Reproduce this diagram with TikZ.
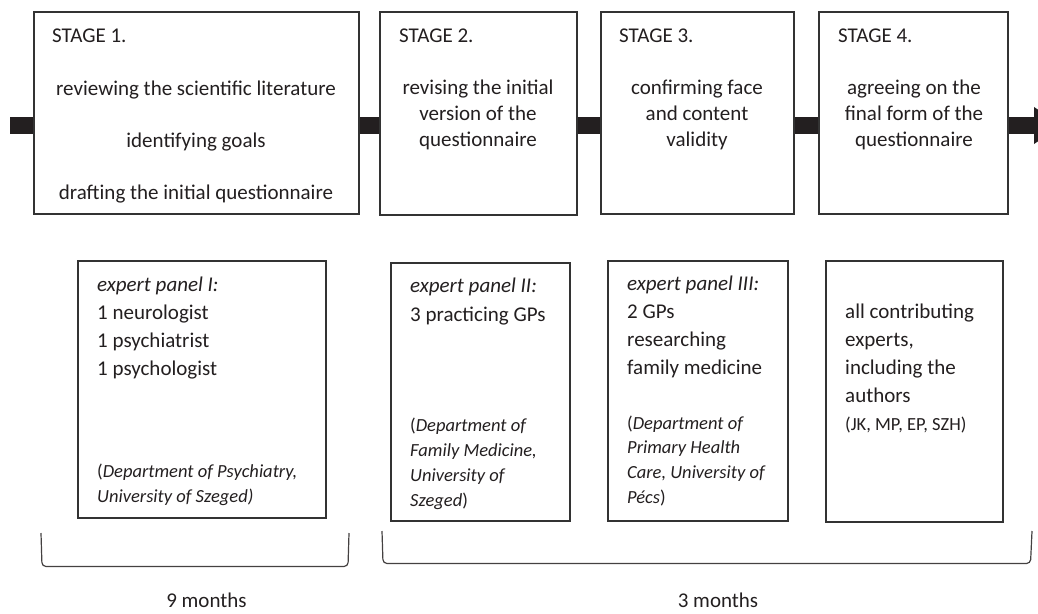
\documentclass[tikz,border=0pt]{standalone}
\usepackage{fontspec}
\setmainfont{Carlito}
\usetikzlibrary{arrows.meta}
\definecolor{ink}{HTML}{231F20}
\definecolor{framecol}{HTML}{333333}
\begin{document}
\begin{tikzpicture}[x=1pt,y=-1pt,
  box/.style={draw=framecol, line width=1.6pt, fill=white, inner sep=0pt, rectangle},
  txt/.style={inner sep=0pt, text=ink, font=\fontsize{21}{26}\selectfont},
  mainlines/.style={txt, font=\fontsize{21}{28}\selectfont},
  deptlines/.style={txt, font=\fontsize{18.5}{25}\selectfont},
  bar/.style={draw=ink, line width=17.6pt},
  brace/.style={draw=ink!85, line width=1.2pt, rounded corners=4pt}]
\useasboundingbox (0,0) rectangle (1038,613);

% connector ends
\coordinate (start) at (10,125.5);
\coordinate (end) at (1062,125.5);

% stage boxes
\node[box, minimum width=325pt, minimum height=202pt] (s1) at (196.5,113) {};
\node[box, minimum width=197pt, minimum height=203pt] (s2) at (478.5,113.5) {};
\node[box, minimum width=193pt, minimum height=202pt] (s3) at (697.5,113) {};
\node[box, minimum width=189pt, minimum height=202pt] (s4) at (913.5,113) {};

% connectors (thick bar)
\draw[bar] (start) -- (start -| s1.west);
\draw[bar] (s1.east |- start) -- (s2.west |- start);
\draw[bar] (s2.east |- start) -- (s3.west |- start);
\draw[bar] (s3.east |- start) -- (s4.west |- start);
\draw[bar, -{Triangle[length=28pt,width=35pt]}] (s4.east |- start) -- (end);

% stage texts
\node[txt, anchor=base west] (s1h) at (52,42) {STAGE 1.};
\node[txt, anchor=base, font=\fontsize{21}{52}\selectfont] (s1b) at (196,95)
  {\begin{tabular}[t]{@{}c@{}}reviewing the scientific literature\\identifying goals\\drafting the initial questionnaire\end{tabular}};
\node[txt, anchor=base west] (s2h) at (399,42) {STAGE 2.};
\node[txt, anchor=base] (s2b) at (478,94)
  {\begin{tabular}[t]{@{}c@{}}revising the initial\\version of the\\questionnaire\end{tabular}};
\node[txt, anchor=base west] (s3h) at (619,42) {STAGE 3.};
\node[txt, anchor=base] (s3b) at (697,94)
  {\begin{tabular}[t]{@{}c@{}}confirming face\\and content\\validity\end{tabular}};
\node[txt, anchor=base west] (s4h) at (838,42) {STAGE 4.};
\node[txt, anchor=base] (s4b) at (914,94)
  {\begin{tabular}[t]{@{}c@{}}agreeing on the\\final form of the\\questionnaire\end{tabular}};

% panels
\node[box, minimum width=248pt, minimum height=257pt] (p1) at (202,389.5) {};
\node[box, minimum width=179pt, minimum height=258pt] (p2) at (480.5,392) {};
\node[box, minimum width=180pt, minimum height=260pt] (p3) at (698,391) {};
\node[box, minimum width=177pt, minimum height=261pt] (p4) at (914.5,391.5) {};

\node[mainlines, anchor=base west] (p1a) at (97,291)
  {\begin{tabular}[t]{@{}l@{}}\textit{expert panel I:}\\1 neurologist\\1 psychiatrist\\1 psychologist\end{tabular}};
\node[deptlines, anchor=base west] (p1b) at (97,477)
  {\begin{tabular}[t]{@{}l@{}}(\textit{Department of Psychiatry,}\\\textit{University of Szeged)}\end{tabular}};

\node[mainlines, anchor=base west, font=\fontsize{21}{29}\selectfont] (p2a) at (410,292)
  {\begin{tabular}[t]{@{}l@{}}\textit{expert panel II:}\\3 practicing GPs\end{tabular}};
\node[deptlines, anchor=base west] (p2b) at (410,431)
  {\begin{tabular}[t]{@{}l@{}}(\textit{Department of}\\\textit{Family Medicine,}\\\textit{University of}\\\textit{Szeged})\end{tabular}};

\node[mainlines, anchor=base west] (p3a) at (627,290)
  {\begin{tabular}[t]{@{}l@{}}\textit{expert panel III:}\\2 GPs\\researching\\family medicine\end{tabular}};
\node[deptlines, anchor=base west, font=\fontsize{18.5}{24.7}\selectfont] (p3b) at (627,429)
  {\begin{tabular}[t]{@{}l@{}}(\textit{Department of}\\\textit{Primary Health}\\\textit{Care, University of}\\\textit{Pécs})\end{tabular}};

\node[mainlines, anchor=base west, font=\fontsize{21}{28.3}\selectfont] (p4a) at (845,318)
  {\begin{tabular}[t]{@{}l@{}}all contributing\\experts,\\including the\\authors\end{tabular}};
\node[deptlines, anchor=base west] (p4b) at (845,430) {(JK, MP, EP, SZH)};

% brackets
\draw[brace] (41,533) -- (42,566.5) -- (348,566.5) -- (349,533);
\draw[brace] (382,531) -- (383,563.5) -- (1030.5,563.5) -- (1032,531);

\node[txt, anchor=base] (m9) at (206.5,607) {9 months};
\node[txt, anchor=base] (m3) at (718,607) {3 months};
\end{tikzpicture}
\end{document}
